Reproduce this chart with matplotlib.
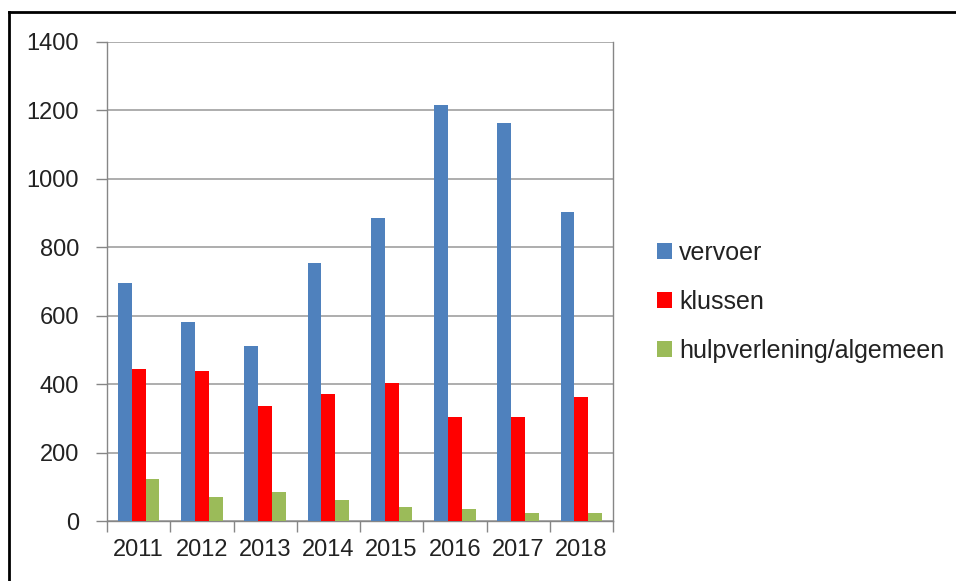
import matplotlib.pyplot as plt
import numpy as np

# data
years = ['2011', '2012', '2013', '2014', '2015', '2016', '2017', '2018']
vervoer = [695, 583, 512, 755, 887, 1216, 1164, 904]
klussen = [444, 437, 336, 370, 402, 305, 305, 362]
hulpverlening = [122, 69, 84, 62, 40, 36, 24, 24]
series_names = ['vervoer', 'klussen', 'hulpverlening/algemeen']
colors = ['#4f81bd', '#ff0000', '#9bbb59']

plt.rcParams['font.family'] = ['Liberation Sans', 'DejaVu Sans']

W, H = 956, 581
fig = plt.figure(figsize=(W / 100, H / 100), dpi=100)

# axes box in pixels: left 107, right 613, top 42, bottom 521
ax = fig.add_axes([107 / W, 1 - 521 / H, (613 - 107) / W, (521 - 42) / H])

x = np.arange(len(years))
width = 0.22
handles = []
for k, (vals, name, c) in enumerate(zip([vervoer, klussen, hulpverlening], series_names, colors)):
    b = ax.bar(x + (k - 1) * width, vals, width, color=c, label=name, zorder=3)
    handles.append(b)

ax.set_xlim(-0.5, len(years) - 0.5)
ax.set_ylim(0, 1400)
ax.set_yticks(range(0, 1401, 200))
ax.yaxis.grid(True, color='#a0a0a0', linewidth=1.2, zorder=0)

# category ticks sit between groups
ax.set_xticks(np.arange(-0.5, len(years), 1.0))
ax.set_xticklabels([])
ax.set_xticks(x, minor=True)
ax.set_xticklabels(years, minor=True)
ax.tick_params(axis='x', which='minor', length=0, pad=13, labelsize=17, colors='#222222')
ax.tick_params(axis='x', which='major', length=8, color='#868686', width=1)
ax.tick_params(axis='y', length=8, color='#868686', width=1, labelsize=17, pad=12,
               labelcolor='#222222')

for s in ['left', 'bottom', 'right']:
    ax.spines[s].set_color('#868686')
    ax.spines[s].set_linewidth(1)
ax.spines['top'].set_visible(False)

fig.legend(handles=handles, labels=series_names, loc='upper left',
           bbox_to_anchor=(634 / W, 1 - 218 / H), frameon=False, fontsize=18,
           handlelength=0.6, handleheight=0.6, handletextpad=0.3, labelspacing=1.0,
           labelcolor='#222222')

# outer chart frame (left and top edges visible)
fig.add_artist(plt.Line2D([9 / W, 9 / W], [0, 1 - 12 / H], color='black', linewidth=2,
                          transform=fig.transFigure))
fig.add_artist(plt.Line2D([9 / W, 1], [1 - 12 / H, 1 - 12 / H], color='black', linewidth=2,
                          transform=fig.transFigure))

fig.savefig('out.png', dpi=100)
plt.close(fig)
